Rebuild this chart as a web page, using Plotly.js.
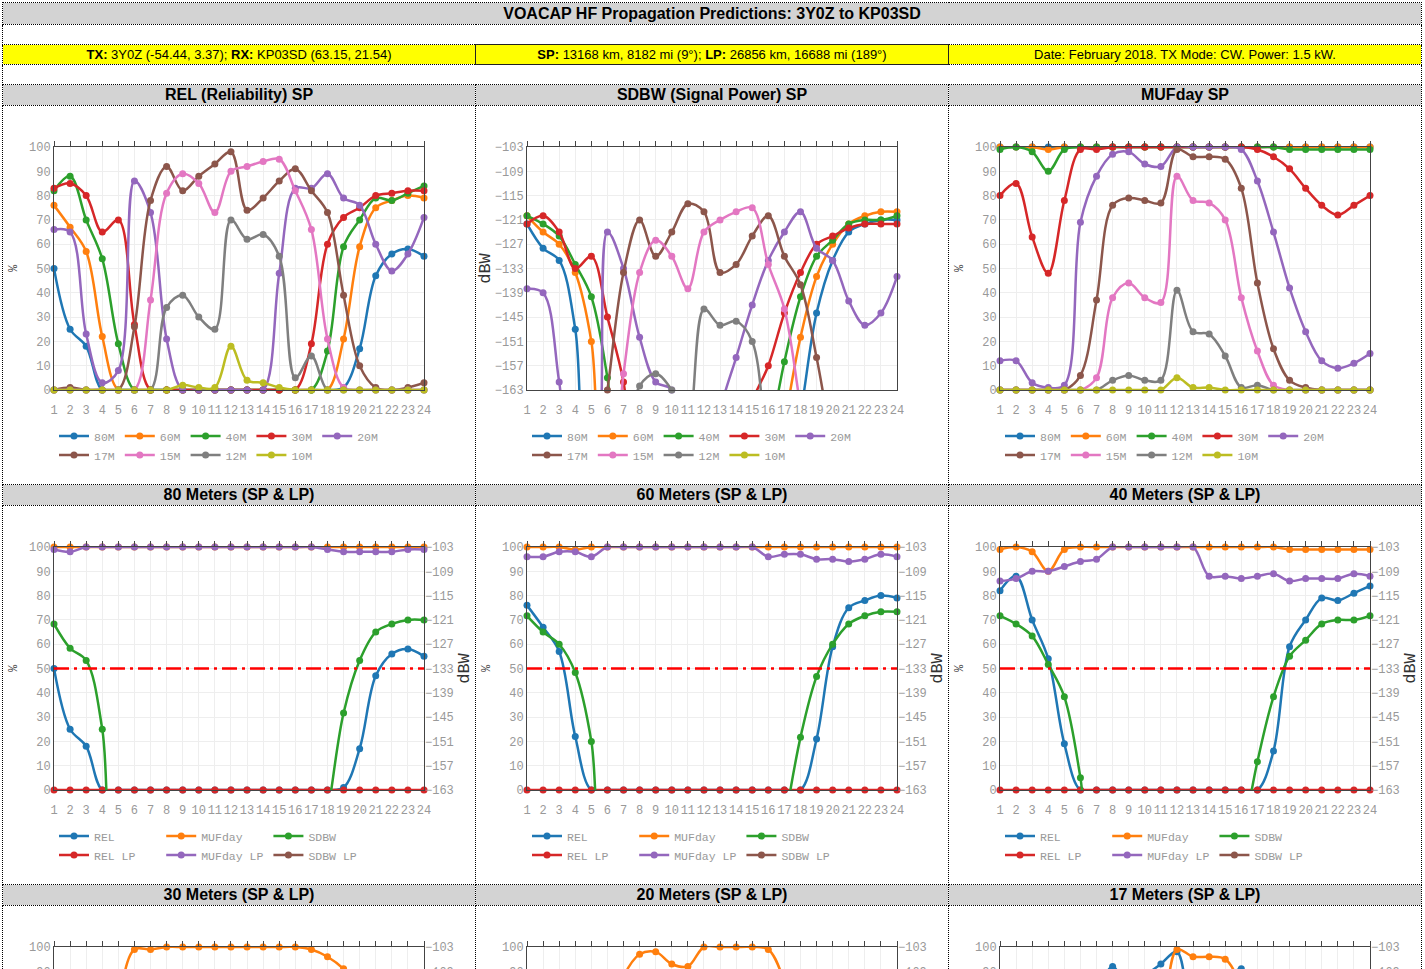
<!DOCTYPE html>
<html>
<head>
<meta charset="utf-8">
<title>VOACAP HF Propagation Predictions: 3Y0Z to KP03SD</title>
<script src="https://cdn.plot.ly/plotly-3.0.1.min.js"></script>
<style>
body{margin:2px;background:#fff;font-family:Arial,"Liberation Sans",sans-serif;color:#000}
table{border-collapse:collapse;table-layout:fixed}
td{border:1px dotted #000;padding:0;text-align:center;vertical-align:top;overflow:hidden}
.hdr{background:#d3d3d3;font-weight:bold;font-size:16px;height:21px;line-height:21px}
.gap{height:19px}
.info{background:#ffff00;font-size:13px;height:19px;line-height:19px}
.info.mid{border:1px solid #222}
.ttl{background:#d3d3d3;font-weight:bold;font-size:16px;height:20px;line-height:20px}
.plot{height:378px}
.chart{width:472px;height:376px}
</style>
</head>
<body>
<table>
  <colgroup><col style="width:472px"><col style="width:472px"><col style="width:472px"></colgroup>
  <tr><td colspan="3" class="hdr">VOACAP HF Propagation Predictions: 3Y0Z to KP03SD</td></tr>
  <tr><td colspan="3" class="gap"></td></tr>
  <tr>
    <td class="info"><b>TX:</b> 3Y0Z (-54.44, 3.37); <b>RX:</b> KP03SD (63.15, 21.54)</td>
    <td class="info mid"><b>SP:</b> 13168 km, 8182 mi (9°); <b>LP:</b> 26856 km, 16688 mi (189°)</td>
    <td class="info">Date: February 2018. TX Mode: CW. Power: 1.5 kW.</td>
  </tr>
  <tr><td colspan="3" class="gap"></td></tr>
  <tr><td class="ttl">REL (Reliability) SP</td><td class="ttl">SDBW (Signal Power) SP</td><td class="ttl">MUFday SP</td></tr>
  <tr><td class="plot"><div id="relChart" class="chart"></div></td><td class="plot"><div id="sdbwChart" class="chart"></div></td><td class="plot"><div id="mufChart" class="chart"></div></td></tr>
  <tr><td class="ttl">80 Meters (SP &amp; LP)</td><td class="ttl">60 Meters (SP &amp; LP)</td><td class="ttl">40 Meters (SP &amp; LP)</td></tr>
  <tr><td class="plot"><div id="b80" class="chart"></div></td><td class="plot"><div id="b60" class="chart"></div></td><td class="plot"><div id="b40" class="chart"></div></td></tr>
  <tr><td class="ttl">30 Meters (SP &amp; LP)</td><td class="ttl">20 Meters (SP &amp; LP)</td><td class="ttl">17 Meters (SP &amp; LP)</td></tr>
  <tr><td class="plot"><div id="b30" class="chart"></div></td><td class="plot"><div id="b20" class="chart"></div></td><td class="plot"><div id="b17" class="chart"></div></td></tr>
</table>
<script>
// ── data (UTC hour 1..24) ──────────────────────────────────────────────────
const HOURS = [1,2,3,4,5,6,7,8,9,10,11,12,13,14,15,16,17,18,19,20,21,22,23,24];
const BANDS = ['80M','60M','40M','30M','20M','17M','15M','12M','10M'];
const REL_THRESHOLD = 50;

// REL, % (short path)
const rel80 = [50,25,18,0,0,0,0,0,0,0,0,0,0,0,0,0,0,0,1,17,47,56,58,55];
const rel60 = [76,67,57,22,0,0,0,0,0,0,0,0,0,0,0,0,0,0,21,59,75,78,80,79];
const rel40 = [82,88,70,54,19,0,0,0,0,0,0,0,0,0,0,0,0,16,59,70,79,78,81,84];
const rel30 = [83,85,80,65,70,27,0,0,0,0,0,0,0,0,0,0,19,60,71,75,80,81,82,82];
const rel20 = [66,65,23,3,8,86,73,21,0,0,0,0,0,0,48,83,83,89,79,76,60,49,56,71];
const rel17 = [0,1,0,0,0,26,78,92,82,88,93,98,74,79,86,91,82,73,39,10,1,0,1,3];
const rel15 = [0,0,0,0,0,0,37,81,89,85,73,90,92,94,95,82,66,21,1,0,0,0,0,0];
const rel12 = [0,0,0,0,0,0,0,34,39,30,25,70,62,64,55,5,14,0,0,0,0,0,0,0];
const rel10 = [0,0,0,0,0,0,0,0,2,1,1,18,4,3,1,0,0,0,0,0,0,0,0,0];

// SDBW, dBW (short path) - values under -163 fall off the chart
const sdbw80 = [-122,-128,-131,-148,-190,-190,-190,-190,-190,-190,-190,-190,-190,-190,-190,-190,-190,-169,-144,-131,-124,-122,-121,-121];
const sdbw60 = [-120,-124,-127,-134,-151,-190,-190,-190,-190,-190,-190,-190,-190,-190,-190,-190,-171,-150,-135,-127,-122,-120,-119,-119];
const sdbw40 = [-120,-122,-125,-132,-140,-160,-190,-190,-190,-190,-190,-190,-190,-190,-190,-176,-156,-140,-130,-126,-122,-121,-121,-120];
const sdbw30 = [-122,-120,-124,-133,-130,-145,-161,-190,-190,-190,-190,-190,-190,-185,-166,-157,-144,-134,-127,-125,-123,-122,-122,-122];
const sdbw20 = [-138,-139,-161,-190,-190,-124,-133,-150,-161,-163,-185,-190,-168,-155,-142,-131,-124,-119,-128,-131,-141,-147,-144,-135];
const sdbw17 = [-190,-190,-190,-190,-190,-163,-134,-121,-130,-124,-117,-119,-134,-132,-125,-120,-130,-137,-155,-176,-190,-190,-190,-190];
const sdbw15 = [-190,-190,-190,-190,-190,-192,-159,-134,-126,-130,-138,-124,-121,-119,-118,-132,-143,-167,-190,-190,-190,-190,-190,-190];
const sdbw12 = [-190,-190,-190,-190,-190,-190,-185,-162,-159,-163,-172,-143,-147,-146,-151,-178,-190,-190,-190,-190,-190,-190,-190,-190];
const sdbw10 = [-190,-190,-190,-190,-190,-190,-190,-190,-190,-190,-190,-190,-190,-190,-190,-190,-190,-190,-190,-190,-190,-190,-190,-190];

// MUFday, % (short path)
const muf80 = [100,100,100,100,100,100,100,100,100,100,100,100,100,100,100,100,100,100,100,100,100,100,100,100];
const muf60 = [100,100,100,99,100,100,100,100,100,100,100,100,100,100,100,100,100,100,100,100,100,100,100,100];
const muf40 = [99,100,98,90,99,100,100,100,100,100,100,100,100,100,100,100,100,100,99,99,99,99,99,99];
const muf30 = [80,85,63,48,78,99,99,100,100,100,100,100,100,100,100,100,99,96,91,83,76,72,76,80];
const muf20 = [12,12,3,1,2,69,88,97,98,93,92,100,100,100,100,99,86,65,42,24,12,9,11,15];
const muf17 = [0,0,0,0,0,6,37,76,79,78,77,99,96,96,95,83,44,17,4,1,0,0,0,0];
const muf15 = [0,0,0,0,0,0,5,38,44,38,36,88,78,77,70,38,16,2,0,0,0,0,0,0];
const muf12 = [0,0,0,0,0,0,0,4,6,4,4,41,24,23,14,1,2,0,0,0,0,0,0,0];
const muf10 = [0,0,0,0,0,0,0,0,0,0,0,5,1,1,0,0,0,0,0,0,0,0,0,0];

// long path
const relLp80 = [0,0,0,0,0,0,0,0,0,0,0,0,0,0,0,0,0,0,0,0,0,0,0,0];
const relLp60 = [0,0,0,0,0,0,0,0,0,0,0,0,0,0,0,0,0,0,0,0,0,0,0,0];
const relLp40 = [0,0,0,0,0,0,0,0,0,0,0,0,0,0,0,0,0,0,0,0,0,0,0,0];
const relLp30 = [0,0,0,0,0,0,0,0,0,0,0,0,0,0,0,0,0,0,0,0,0,0,0,0];
const relLp20 = [0,0,0,0,0,0,0,0,0,0,0,0,0,0,0,0,0,0,0,0,0,0,0,0];
const relLp17 = [0,0,0,0,0,0,0,0,0,0,0,0,0,0,0,0,0,0,0,0,0,0,0,0];
const mufLp80 = [99,98,100,100,100,100,100,100,100,100,100,100,100,100,100,100,100,99,98,98,98,98,99,99];
const mufLp60 = [96,96,98,98,96,100,100,100,100,100,100,100,100,100,100,96,97,97,95,95,94,95,97,96];
const mufLp40 = [86,87,90,90,92,94,95,100,100,100,100,100,100,88,88,87,88,89,86,87,87,87,89,88];
const mufLp30 = [62,60,57,55,56,60,64,68,70,72,74,76,76,75,73,71,69,67,65,64,63,62,62,62];
const mufLp20 = [30,28,25,22,22,25,30,36,40,44,48,52,54,52,48,44,40,37,35,33,32,31,31,30];
const mufLp17 = [10,9,8,7,7,8,10,13,16,19,22,25,27,25,22,19,16,14,13,12,11,11,10,10];
const sdbwLp80 = [-190,-190,-190,-190,-190,-190,-190,-190,-190,-190,-190,-190,-190,-190,-190,-190,-190,-190,-190,-190,-190,-190,-190,-190];
const sdbwLp60 = [-190,-190,-190,-190,-190,-190,-190,-190,-190,-190,-190,-190,-190,-190,-190,-190,-190,-190,-190,-190,-190,-190,-190,-190];
const sdbwLp40 = [-190,-190,-190,-190,-190,-190,-190,-190,-190,-190,-190,-190,-190,-190,-190,-190,-190,-190,-190,-190,-190,-190,-190,-190];
const sdbwLp30 = [-190,-190,-190,-190,-190,-190,-190,-190,-190,-190,-190,-190,-190,-190,-190,-190,-190,-190,-190,-190,-190,-190,-190,-190];
const sdbwLp20 = [-190,-190,-190,-190,-190,-190,-190,-190,-190,-190,-190,-190,-190,-190,-190,-190,-190,-190,-190,-190,-190,-190,-190,-190];
const sdbwLp17 = [-190,-190,-190,-190,-190,-190,-190,-190,-190,-190,-190,-190,-190,-190,-190,-190,-190,-190,-190,-190,-190,-190,-190,-190];

// ── style ───────────────────────────────────────────────────────────────────
const COLORS = ['#1f77b4','#ff7f0e','#2ca02c','#d62728','#9467bd','#8c564b','#e377c2','#7f7f7f','#bcbd22'];
const MONO = '"Liberation Mono", "Courier New", monospace';
const TICKFONT = {family:MONO, size:12, color:'#999'};
const CONFIG = {displayModeBar:false};

function line(name, y, color, yaxis) {
  return {x:HOURS, y:y, name:name, type:'scatter', mode:'lines+markers', yaxis:yaxis||'y',
    line:{shape:'spline', color:color, width:2.5}, marker:{size:7, color:color},
    cliponaxis:false, hoverinfo:'x+y+name'};
}
// empty trace so the top tick axis gets drawn
function topTicks() {
  return {x:[], y:[], xaxis:'x2', type:'scatter', mode:'lines', showlegend:false, hoverinfo:'skip'};
}

function yPct() {
  return {range:[0,100], dtick:10, tick0:0, showline:true, mirror:true, linecolor:'#444',
    gridcolor:'#eee', zeroline:false, ticks:'', tickfont:TICKFONT, fixedrange:true,
    title:{text:'%', font:{family:MONO, size:12, color:'#444'}, standoff:8}};
}
function yDbw(side) {
  return {range:[-163,-103], dtick:6, tick0:-163, showline:side!=='right', mirror:side!=='right',
    linecolor:'#444', gridcolor:'#eee', zeroline:false, ticks:'', tickfont:TICKFONT, fixedrange:true,
    side:side||'left', title:{text:'dBW', font:{family:MONO, size:17, color:'#333'}, standoff:side==='right'?4:2}};
}

function baseLayout() {
  return {
    width:472, height:376, margin:{l:51, r:51, t:41, b:86},
    paper_bgcolor:'#fff', plot_bgcolor:'#fff', showlegend:true,
    legend:{orientation:'h', x:0, xanchor:'left', y:-0.13, yanchor:'top',
      font:{family:MONO, size:11.5, color:'#999'}},
    xaxis:{range:[1,24], dtick:1, tick0:1, tickangle:0, ticklabelstandoff:9, showline:true, mirror:true,
      linecolor:'#444', gridcolor:'#eee', zeroline:false, ticks:'', tickfont:TICKFONT, fixedrange:true},
    xaxis2:{range:[1,24], dtick:1, tick0:1, overlaying:'x', side:'top', anchor:'y', ticks:'outside',
      ticklen:5, tickcolor:'#444', showticklabels:false, showgrid:false, showline:false,
      zeroline:false, fixedrange:true},
    yaxis:yPct()
  };
}

function spChart(id, series, yaxis) {
  const traces = series.map((s,i) => line(BANDS[i], s, COLORS[i]));
  traces.push(topTicks());
  const layout = baseLayout();
  layout.yaxis = yaxis;
  Plotly.newPlot(id, traces, layout, CONFIG);
}

function bandChart(id, rel, muf, sdbw, relLp, mufLp, sdbwLp) {
  const traces = [
    line('REL', rel, COLORS[0]),
    line('MUFday', muf, COLORS[1]),
    line('SDBW', sdbw, COLORS[2], 'y2'),
    line('REL LP', relLp, COLORS[3]),
    line('MUFday LP', mufLp, COLORS[4]),
    line('SDBW LP', sdbwLp, COLORS[5], 'y2'),
    topTicks(),
  ];
  const layout = baseLayout();
  layout.yaxis2 = Object.assign(yDbw('right'), {overlaying:'y', showgrid:false});
  layout.shapes = [{type:'line', xref:'x', yref:'y', x0:HOURS[0], x1:HOURS[HOURS.length-1],
    y0:REL_THRESHOLD, y1:REL_THRESHOLD, line:{color:'#ff0000', width:2.5, dash:'15px,5px,3px,5px'}}];
  Plotly.newPlot(id, traces, layout, CONFIG);
}

spChart('relChart', [rel80,rel60,rel40,rel30,rel20,rel17,rel15,rel12,rel10], yPct());
spChart('sdbwChart', [sdbw80,sdbw60,sdbw40,sdbw30,sdbw20,sdbw17,sdbw15,sdbw12,sdbw10], yDbw('left'));
spChart('mufChart', [muf80,muf60,muf40,muf30,muf20,muf17,muf15,muf12,muf10], yPct());

bandChart('b80', rel80, muf80, sdbw80, relLp80, mufLp80, sdbwLp80);
bandChart('b60', rel60, muf60, sdbw60, relLp60, mufLp60, sdbwLp60);
bandChart('b40', rel40, muf40, sdbw40, relLp40, mufLp40, sdbwLp40);
bandChart('b30', rel30, muf30, sdbw30, relLp30, mufLp30, sdbwLp30);
bandChart('b20', rel20, muf20, sdbw20, relLp20, mufLp20, sdbwLp20);
bandChart('b17', rel17, muf17, sdbw17, relLp17, mufLp17, sdbwLp17);
</script>
</body>
</html>
